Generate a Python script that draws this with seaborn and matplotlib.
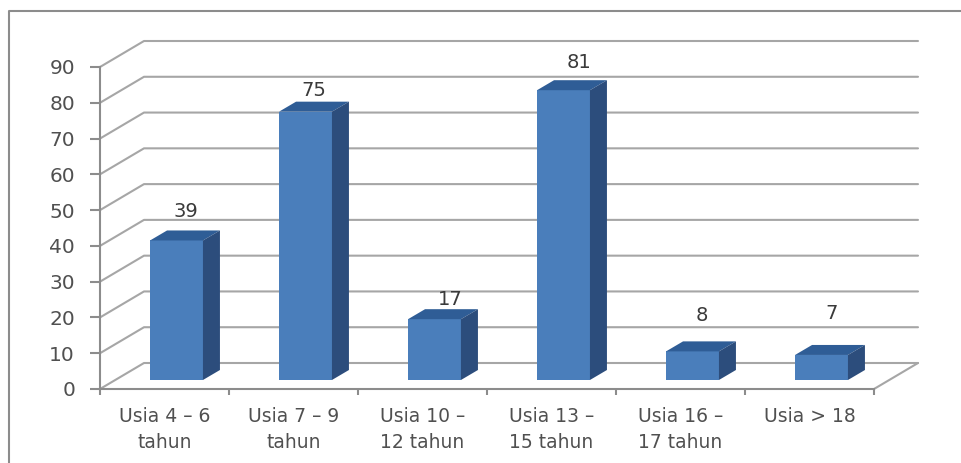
import matplotlib
matplotlib.use('Agg')
import matplotlib.pyplot as plt
import seaborn as sns
from matplotlib.patches import Polygon
from matplotlib.lines import Line2D

categories = ['Usia 4 – 6\ntahun', 'Usia 7 – 9\ntahun', 'Usia 10 –\n12 tahun',
              'Usia 13 –\n15 tahun', 'Usia 16 –\n17 tahun', 'Usia > 18']
values = [39, 75, 17, 81, 8, 7]
y_ticks = [0, 10, 20, 30, 40, 50, 60, 70, 80, 90]

# hand placed labels in the original, pixels from the front top edge of the bar
label_dx = [9, 8, 16, 15, 9, 10]
label_dy = [29, 21, 20, 28, 36, 41]

W, H = 961, 463
GRID = '#a6a6a6'
TEXT = '#505050'

sns.set_style('white')
plt.rcParams['font.family'] = ['DejaVu Sans']

fig = plt.figure(figsize=(W / 100, H / 100), dpi=100)
ax = fig.add_axes([100 / W, 1 - 389 / H, 774 / W, 322 / H])

sns.barplot(x=categories, y=values, color='#4a7ebb', saturation=1, width=0.41,
            linewidth=0, ax=ax, zorder=5)
ax.set_xlim(-0.5, 5.5)
ax.set_ylim(0, 90)

# pixel sizes of the fake 3d depth, turned into data units
px_x = 6 / 774
px_y = 90 / 322
depth_x, depth_y = 44 * px_x, 26 * px_y

# back wall and floor
for t in y_ticks:
    ax.plot([-0.5, -0.5 + depth_x, 5.5 + depth_x], [t, t + depth_y, t + depth_y],
            color=GRID, lw=1.5, clip_on=False, zorder=1)
ax.plot([5.5, 5.5 + depth_x], [0, depth_y], color=GRID, lw=1.5, clip_on=False, zorder=1)

# move bars back on the floor, add top and side faces
bar_dx, bar_dy = 12 * px_x, 9 * px_y
side_x, side_y = 17 * px_x, 10 * px_y
for bar, val, dx, dy in zip(ax.patches, values, label_dx, label_dy):
    bar.set_x(bar.get_x() + bar_dx)
    bar.set_y(bar_dy)
    bar.set_clip_on(False)
    x0 = bar.get_x()
    x1 = x0 + bar.get_width()
    y0 = bar_dy
    y1 = y0 + bar.get_height()
    ax.add_patch(Polygon([(x0, y1), (x1, y1), (x1 + side_x, y1 + side_y), (x0 + side_x, y1 + side_y)],
                         fc='#2f5d96', ec='none', clip_on=False, zorder=5))
    ax.add_patch(Polygon([(x1, y0), (x1 + side_x, y0 + side_y), (x1 + side_x, y1 + side_y), (x1, y1)],
                         fc='#2c4d7c', ec='none', clip_on=False, zorder=5))
    ax.annotate(str(val), ((x0 + x1) / 2, y1), xytext=(dx, dy), textcoords='offset pixels',
                ha='center', va='center', fontsize=14, color='#3a3a3a', zorder=6,
                annotation_clip=False)

sns.despine(ax=ax)
for side in ['left', 'bottom']:
    ax.spines[side].set_color('#8c8c8c')
    ax.spines[side].set_linewidth(1.5)

ax.set_yticks(y_ticks)
ax.set_xticks([i - 0.5 for i in range(7)])
ax.set_xticklabels([])
ax.set_xticks(range(6), categories, minor=True)
ax.tick_params(axis='y', length=7, width=1.5, color='#8c8c8c', labelsize=14.5,
               labelcolor=TEXT, pad=11, left=True)
ax.tick_params(axis='x', which='major', length=4, width=1.5, color='#8c8c8c', bottom=True)
ax.tick_params(axis='x', which='minor', length=0, labelsize=13.5, labelcolor=TEXT, pad=13)
for lab in ax.get_xticklabels(minor=True):
    lab.set_linespacing(1.45)

# chart area border, only left and top are inside the crop
fig.add_artist(Line2D([9 / W, 9 / W, 1], [0, 1 - 11 / H, 1 - 11 / H], color='#8c8c8c', lw=1.5))

fig.savefig('out.png', dpi=100)
